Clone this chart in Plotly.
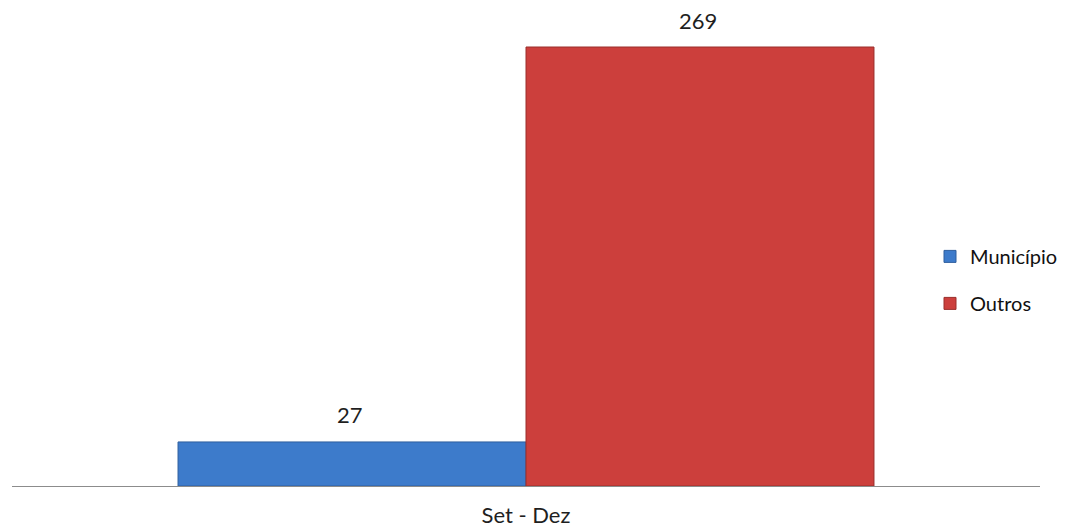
import plotly.graph_objects as go

categories = ["Set - Dez"]
series_names = ["Município", "Outros"]
series_values = [[27], [269]]
series_colors = ["#3d7bcb", "#cc3f3c"]
series_lines = ["#2f5f9e", "#9a2e2b"]
label_shift = 27

FIG_W, FIG_H = 1078, 522
M_L, M_R, M_T, M_B = 4, 46, 2, 44
BARGAP = 0.323
FONT = "Lato, 'Open Sans', sans-serif"

fig = go.Figure()
for name, vals, col, lc in zip(series_names, series_values, series_colors, series_lines):
    fig.add_trace(go.Bar(
        x=categories, y=vals, name=name, legendgroup=name,
        marker=dict(color=col, line=dict(color=lc, width=1)),
        hoverinfo="skip",
    ))

plot_w = FIG_W - M_L - M_R
plot_h = FIG_H - M_T - M_B
bar_px = plot_w * (1 - BARGAP) / len(series_names)
ymax = max(max(v) for v in series_values)
yrange_top = ymax * plot_h / 439.0

annotations = []
for i, vals in enumerate(series_values):
    off = (i - (len(series_names) - 1) / 2) * bar_px - 2
    for c, v in zip(categories, vals):
        annotations.append(dict(
            x=c, y=v, xref="x", yref="y", text=str(v), showarrow=False,
            xshift=off, yshift=label_shift, yanchor="middle",
            font=dict(size=22, color="#1f1f1f", family=FONT),
        ))

fig.update_layout(
    width=FIG_W, height=FIG_H,
    margin=dict(l=M_L, r=M_R, t=M_T, b=M_B),
    paper_bgcolor="white", plot_bgcolor="white",
    barmode="group", bargap=BARGAP, bargroupgap=0,
    font=dict(family=FONT, size=22, color="#1f1f1f"),
    showlegend=True,
    legend=dict(x=0.893, xref="paper", y=0.433, yanchor="middle", xanchor="left",
                font=dict(size=20, color="#111111"), tracegroupgap=18,
                itemwidth=30, bgcolor="rgba(0,0,0,0)"),
    xaxis=dict(showline=True, linecolor="#8c8c8c", linewidth=1, ticks="",
               showgrid=False, tickfont=dict(size=22, color="#1f1f1f"),
               ticklabelstandoff=10),
    yaxis=dict(visible=False, range=[0, yrange_top], showgrid=False, zeroline=False),
    annotations=annotations,
)

fig.write_html("out.html")
